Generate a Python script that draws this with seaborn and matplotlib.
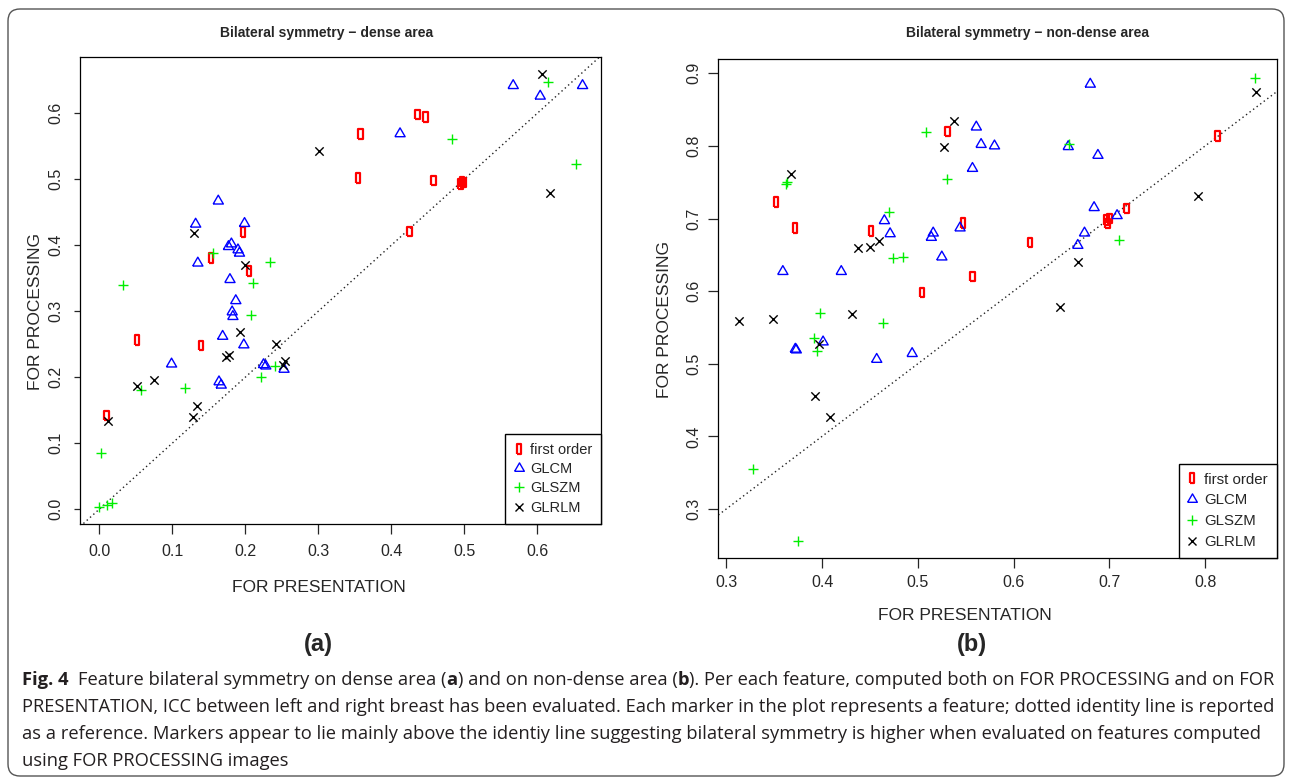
import numpy as np
import pandas as pd
import matplotlib
matplotlib.use("Agg")
import matplotlib.pyplot as plt
import seaborn as sns
from matplotlib import font_manager
from matplotlib.lines import Line2D
from matplotlib.patches import FancyBboxPatch
from matplotlib.transforms import IdentityTransform

# ---- feature ICC values: x = FOR PRESENTATION, y = FOR PROCESSING ----
groups = ["first order", "GLCM", "GLSZM", "GLRLM"]

# dense area
fo_x_d = [0.436, 0.447, 0.358, 0.354, 0.458, 0.495, 0.497, 0.499, 0.425, 0.197, 0.153, 0.205, 0.052, 0.139, 0.010]
fo_y_d = [0.598, 0.594, 0.569, 0.502, 0.498, 0.493, 0.496, 0.495, 0.421, 0.420, 0.381, 0.361, 0.256, 0.248, 0.142]
glcm_x_d = [0.567, 0.662, 0.604, 0.412, 0.163, 0.132, 0.199, 0.177, 0.181, 0.190, 0.192, 0.135,
            0.179, 0.187, 0.182, 0.183, 0.169, 0.198, 0.099, 0.225, 0.228, 0.253, 0.164, 0.167]
glcm_y_d = [0.642, 0.642, 0.626, 0.569, 0.467, 0.432, 0.433, 0.398, 0.402, 0.393, 0.388, 0.373,
            0.348, 0.316, 0.299, 0.292, 0.262, 0.249, 0.220, 0.219, 0.217, 0.212, 0.193, 0.188]
glszm_x_d = [0.615, 0.483, 0.653, 0.156, 0.234, 0.211, 0.032, 0.208, 0.241, 0.222, 0.057, 0.117, 0.002, 0.000, 0.011, 0.018]
glszm_y_d = [0.647, 0.561, 0.523, 0.388, 0.374, 0.343, 0.340, 0.295, 0.217, 0.201, 0.181, 0.183, 0.085, 0.003, 0.006, 0.009]
glrlm_x_d = [0.607, 0.301, 0.618, 0.130, 0.200, 0.193, 0.242, 0.173, 0.178, 0.254, 0.251, 0.052, 0.075, 0.134, 0.129, 0.012]
glrlm_y_d = [0.660, 0.543, 0.479, 0.418, 0.370, 0.268, 0.250, 0.231, 0.234, 0.224, 0.218, 0.187, 0.196, 0.156, 0.140, 0.133]

# non-dense area
fo_x_n = [0.531, 0.352, 0.372, 0.451, 0.547, 0.557, 0.504, 0.813, 0.718, 0.697, 0.700, 0.698, 0.617]
fo_y_n = [0.820, 0.723, 0.687, 0.683, 0.694, 0.620, 0.598, 0.814, 0.714, 0.698, 0.700, 0.693, 0.667]
glcm_x_n = [0.561, 0.566, 0.580, 0.557, 0.465, 0.471, 0.516, 0.514, 0.544, 0.525, 0.359, 0.420,
            0.680, 0.657, 0.688, 0.684, 0.708, 0.674, 0.667, 0.401, 0.372, 0.373, 0.457, 0.494]
glcm_y_n = [0.826, 0.802, 0.800, 0.769, 0.697, 0.679, 0.680, 0.674, 0.687, 0.647, 0.627, 0.627,
            0.885, 0.799, 0.787, 0.715, 0.704, 0.680, 0.663, 0.530, 0.520, 0.519, 0.506, 0.514]
glszm_x_n = [0.509, 0.530, 0.362, 0.363, 0.470, 0.474, 0.484, 0.852, 0.658, 0.710, 0.398, 0.464, 0.392, 0.395, 0.328, 0.375]
glszm_y_n = [0.819, 0.755, 0.748, 0.750, 0.709, 0.645, 0.647, 0.893, 0.802, 0.670, 0.570, 0.556, 0.535, 0.518, 0.355, 0.256]
glrlm_x_n = [0.538, 0.527, 0.367, 0.459, 0.450, 0.438, 0.853, 0.793, 0.667, 0.648, 0.313, 0.349, 0.431, 0.397, 0.393, 0.408]
glrlm_y_n = [0.834, 0.798, 0.762, 0.669, 0.661, 0.659, 0.874, 0.731, 0.640, 0.578, 0.559, 0.562, 0.569, 0.527, 0.455, 0.427]

x_ticks_d = [0.0, 0.1, 0.2, 0.3, 0.4, 0.5, 0.6]
y_ticks_d = [0.0, 0.1, 0.2, 0.3, 0.4, 0.5, 0.6]
x_ticks_n = [0.3, 0.4, 0.5, 0.6, 0.7, 0.8]
y_ticks_n = [0.3, 0.4, 0.5, 0.6, 0.7, 0.8, 0.9]


def frame(xs, ys):
    rows = []
    for g, x, y in zip(groups, xs, ys):
        rows.append(pd.DataFrame({"presentation": x, "processing": y, "family": g}))
    return pd.concat(rows, ignore_index=True)


dense = frame([fo_x_d, glcm_x_d, glszm_x_d, glrlm_x_d], [fo_y_d, glcm_y_d, glszm_y_d, glrlm_y_d])
nondense = frame([fo_x_n, glcm_x_n, glszm_x_n, glrlm_x_n], [fo_y_n, glcm_y_n, glszm_y_n, glrlm_y_n])

# ---- style ----
sns.set_style("white")
plt.rcParams["font.family"] = ["Liberation Sans", "DejaVu Sans"]
plt.rcParams["axes.linewidth"] = 0.9


def has_font(name):
    try:
        font_manager.findfont(font_manager.FontProperties(family=name), fallback_to_default=False)
        return True
    except Exception:
        return False


caption_family = "Liberation Sans Narrow" if has_font("Liberation Sans Narrow") else "Open Sans"

rect_marker = [(-0.45, -1), (0.45, -1), (0.45, 1), (-0.45, 1), (-0.45, -1)]
tri_marker = [(-1, -0.577), (1, -0.577), (0, 1.155), (-1, -0.577)]
style = {
    "first order": dict(marker=rect_marker, color="#ff0000", s=48, lw=1.6, open=True),
    "GLCM": dict(marker=tri_marker, color="#0000ff", s=72, lw=1.0, open=True),
    "GLSZM": dict(marker="+", color="#00ee00", s=56, lw=1.0, open=False),
    "GLRLM": dict(marker="x", color="#000000", s=36, lw=1.0, open=False),
}

W, H = 1292, 780
fig = plt.figure(figsize=(W / 100, H / 100), dpi=100)


def px_axes(l, t, r, b):
    return fig.add_axes([l / W, 1 - b / H, (r - l) / W, (b - t) / H])


ax_d = px_axes(80, 56.7, 601, 523.5)
ax_n = px_axes(718.3, 59.3, 1276.7, 558.3)


def draw(ax, data, legend_size, legend_spacing):
    for g in groups:
        st = style[g]
        sub = data[data["family"] == g]
        kw = dict(marker=st["marker"], s=st["s"], linewidth=st["lw"], legend=False, ax=ax, zorder=3)
        if st["open"]:
            sns.scatterplot(data=sub, x="presentation", y="processing",
                            facecolor="none", edgecolor=st["color"], **kw)
        else:
            sns.scatterplot(data=sub, x="presentation", y="processing", color=st["color"], **kw)
    ax.axline((0, 0), (1, 1), ls=(0, (1, 2.2)), color="#222222", lw=1.0, zorder=2)
    ax.set_xlabel("")
    ax.set_ylabel("")
    for sp in ax.spines.values():
        sp.set_visible(True)
        sp.set_color("black")
    handles = []
    for g in groups:
        st = style[g]
        handles.append(Line2D([], [], ls="none", marker=st["marker"],
                              markersize=np.sqrt(st["s"]) * 0.95,
                              markeredgewidth=st["lw"],
                              markerfacecolor="none" if st["open"] else st["color"],
                              markeredgecolor=st["color"]))
    leg = ax.legend(handles, groups, loc="lower right", frameon=True, fancybox=False,
                    edgecolor="black", framealpha=1, borderaxespad=0, fontsize=legend_size,
                    handlelength=0.65, handletextpad=0.45, labelspacing=legend_spacing,
                    borderpad=0.6)
    leg.get_frame().set_linewidth(1.0)


draw(ax_d, dense, 10.5, 0.36)
draw(ax_n, nondense, 10.8, 0.46)

ax_d.set_xlim(-0.0264, 0.6873)
ax_d.set_ylim(-0.0217, 0.6858)
ax_n.set_xlim(0.2916, 0.8747)
ax_n.set_ylim(0.2320, 0.9193)

ax_d.set_xticks(x_ticks_d)
ax_d.set_yticks(y_ticks_d)
ax_n.set_xticks(x_ticks_n)
ax_n.set_yticks(y_ticks_n)
for ax, xt, yt in [(ax_d, x_ticks_d, y_ticks_d), (ax_n, x_ticks_n, y_ticks_n)]:
    ax.set_xticklabels([f"{v:.1f}" for v in xt])
    ax.set_yticklabels([f"{v:.1f}" for v in yt], rotation=90, va="center")

ax_d.tick_params(axis="x", direction="out", length=7, width=0.9, pad=8, labelsize=11.5, bottom=True)
ax_d.tick_params(axis="y", direction="out", length=4, width=0.9, pad=8, labelsize=11.5, left=True)
ax_n.tick_params(axis="x", direction="out", length=7, width=0.9, pad=5, labelsize=11.5, bottom=True)
ax_n.tick_params(axis="y", direction="out", length=7, width=0.9, pad=5.5, labelsize=11.5, left=True)


def ftext(x, y, s, **kw):
    return fig.text(x / W, 1 - y / H, s, **kw)


# panel titles, axis titles and panel tags
ftext(327, 33, "Bilateral symmetry \u2212 dense area", ha="center", va="center",
      fontsize=10, fontweight="bold")
ftext(1027, 33, "Bilateral symmetry \u2212 non-dense area", ha="center", va="center",
      fontsize=10, fontweight="bold")
ftext(319, 588, "FOR PRESENTATION", ha="center", va="center", fontsize=12.5)
ftext(965, 615, "FOR PRESENTATION", ha="center", va="center", fontsize=12.5)
ftext(36, 311, "FOR PROCESSING", ha="center", va="center", rotation=90, fontsize=12.5)
ftext(664, 320, "FOR PROCESSING", ha="center", va="center", rotation=90, fontsize=12.5)
ftext(318, 645, "(a)", ha="center", va="center", fontsize=17, fontweight="bold")
ftext(972, 645, "(b)", ha="center", va="center", fontsize=17, fontweight="bold")

# rounded outer frame around the figure block
frame_patch = FancyBboxPatch((8, H - 776), W - 16, 767,
                             boxstyle="round,pad=0,rounding_size=12",
                             transform=IdentityTransform(), fill=False,
                             edgecolor="#555555", linewidth=1.0)
fig.patches.append(frame_patch)

# ---- caption with bold runs ----
renderer = fig.canvas.get_renderer()
caption_lines = [
    [("Fig. 4", "bold"), (" ", None), ("Feature bilateral symmetry on dense area (", "normal"), ("a", "bold"),
     (") and on non-dense area (", "normal"), ("b", "bold"),
     ("). Per each feature, computed both on FOR PROCESSING and on FOR", "normal")],
    [("PRESENTATION, ICC between left and right breast has been evaluated. Each marker in the plot "
      "represents a feature; dotted identity line is reported", "normal")],
    [("as a reference. Markers appear to lie mainly above the identiy line suggesting bilateral "
      "symmetry is higher when evaluated on features computed", "normal")],
    [("using FOR PROCESSING images", "normal")],
]
line_y = [680, 707, 734, 761]


def text_width(s, size, weight):
    t = fig.text(0, 0, s, fontsize=size, fontweight=weight, family=[caption_family, "DejaVu Sans"])
    w = t.get_window_extent(renderer).width
    t.remove()
    return w


def line_width(runs, size):
    total = 0.0
    for s, w in runs:
        if w is None:
            total += 2 * (text_width("x x", size, "normal") - text_width("xx", size, "normal"))
        else:
            total += text_width(s, size, w)
    return total


cap_size = 13.0
target = 1246.0
for _ in range(3):
    cap_size *= target / line_width(caption_lines[0], cap_size)

for runs, yy in zip(caption_lines, line_y):
    x = 22.0
    for s, w in runs:
        if w is None:
            x += 2 * (text_width("x x", cap_size, "normal") - text_width("xx", cap_size, "normal"))
            continue
        t = ftext(x, yy, s, fontsize=cap_size, fontweight=w, va="center", ha="left",
                  family=[caption_family, "DejaVu Sans"], color="#231f20")
        x += t.get_window_extent(renderer).width

fig.savefig("out.png", dpi=100)
